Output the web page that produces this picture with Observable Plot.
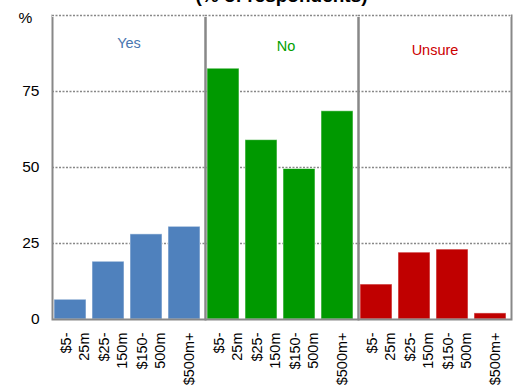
<!DOCTYPE html>
<html>
<head>
<meta charset="utf-8">
<script src="https://cdn.jsdelivr.net/npm/d3@7"></script>
<script src="https://cdn.jsdelivr.net/npm/@observablehq/plot@0.6"></script>
<style>
  html, body { margin: 0; padding: 0; background: #fff; }
  #title { position: relative; height: 8px; overflow: hidden; width: 514px; }
  #title div {
    position: absolute; top: -14px; left: 51px; right: 2px;
    text-align: center; font: bold 19px/19px Arial, "Liberation Sans", sans-serif; color: #000;
  }
</style>
</head>
<body>
<div id="title"><div>(% of respondents)</div></div>
<div id="chart"></div>
<script>
// Answer groups and company size bands
const groups = ["Yes", "No", "Unsure"];
const sizes = ["$5-25m", "$25-150m", "$150-500m", "$500m+"];
const sizeLabels = ["$5-\n25m", "$25-\n150m", "$150-\n500m", "$500m+"];

// Share of respondents (%) per size band
const yesValues = [6.5, 19, 28, 30.5];
const noValues = [82.5, 59, 49.5, 68.5];
const unsureValues = [11.5, 22, 23, 2];

const yTicks = [0, 25, 50, 75];
const gridTicks = [25, 50, 75, 100];

const groupColors = ["#4F81BD", "#009900", "#C00000"];
const textColors = ["#4A76B0", "#00A000", "#CC0000"];

const series = [yesValues, noValues, unsureValues];
const rows = groups.flatMap((g, gi) =>
  sizes.map((s, si) => ({ group: g, size: s, value: series[gi][si] }))
);

const labelOf = new Map(sizes.map((s, i) => [s, sizeLabels[i]]));
const frameGray = "#888888";
const dotted = { stroke: frameGray, strokeOpacity: 1, strokeWidth: 1.5, strokeDasharray: "2,1.5" };

// Panel heading per answer group, each at its own offset from the top
const headOffsets = [28, 31, 35];
const headShift = [0, 4, 0];
const heads = groups.map((g, i) =>
  Plot.text([g], {
    fx: d => d, text: d => d, frameAnchor: "top", dy: headOffsets[i], dx: headShift[i],
    fill: textColors[i], fontSize: 14.5, lineAnchor: "middle"
  })
);

const chart = Plot.plot({
  width: 514,
  height: 377,
  marginTop: 7,
  marginBottom: 66,
  marginLeft: 51,
  marginRight: 2,
  style: { fontFamily: "Arial, 'Liberation Sans', sans-serif", fontSize: "14px", color: "#000", background: "#fff", overflow: "visible" },
  fx: { domain: groups, padding: 0, axis: null, label: null },
  x: { domain: sizes, paddingInner: 0.17, paddingOuter: 0.08, align: 0.3, label: null },
  y: { domain: [0, 100], label: null },
  color: { domain: groups, range: groupColors },
  marks: [
    Plot.ruleY(gridTicks, dotted),
    Plot.barY(rows, { fx: "group", x: "size", y: "value", fill: "group", stroke: "#fff", strokeOpacity: 0.55, strokeWidth: 1 }),
    Plot.frame({ stroke: frameGray, strokeWidth: 2 }),
    Plot.ruleY([100], { stroke: "#fff", strokeWidth: 3 }),
    Plot.ruleY([100], dotted),
    Plot.axisY({ ticks: yTicks, tickSize: 0, tickPadding: 13, fontSize: 15.5, label: "%", labelAnchor: "top", labelArrow: "none", labelOffset: 34 }),
    Plot.axisX({ tickSize: 0, tickRotate: -90, tickPadding: 13, fontSize: 14.5, lineHeight: 1.25, dx: 4, tickFormat: d => labelOf.get(d), label: null }),
    ...heads
  ]
});

document.getElementById("chart").append(chart);
</script>
</body>
</html>
